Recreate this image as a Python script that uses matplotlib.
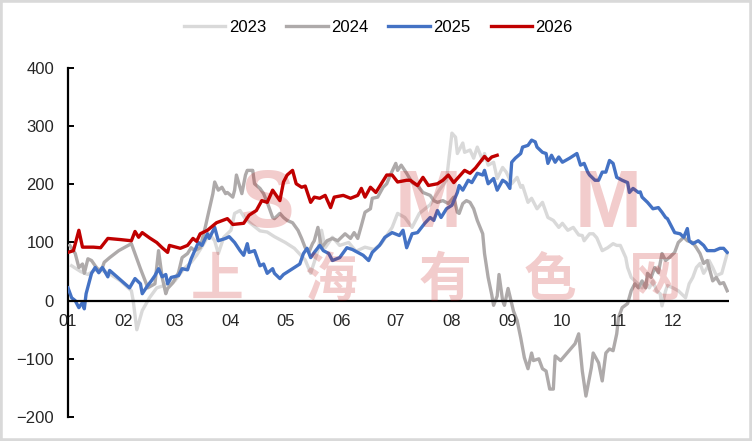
import matplotlib
matplotlib.use('Agg')
import matplotlib.pyplot as plt
from matplotlib.patches import Rectangle

plt.rcParams['font.family'] = ['Liberation Sans', 'DejaVu Sans']

months = ['01', '02', '03', '04', '05', '06', '07', '08', '09', '10', '11', '12']
month_start = [0, 31, 59, 90, 120, 151, 181, 212, 243, 273, 304, 334]

# day of year / value
days_2023 = [2, 7, 11, 16, 22, 29, 35, 36, 38, 41, 45, 49, 53, 59, 64, 68, 71, 75, 78, 81,
             83, 86, 90, 92, 95, 98, 102, 106, 110, 114, 120, 125, 131, 134, 138, 140, 142,
             146, 150, 155, 159, 164, 169, 173, 179, 182, 186, 190, 194, 200, 205, 209, 212,
             214, 215, 218, 219, 222, 224, 226, 229, 230, 232, 235, 237, 240, 242, 245, 248,
             250, 251, 254, 256, 259, 262, 265, 268, 271, 273, 276, 279, 282, 284, 285, 288,
             290, 292, 295, 298, 301, 303, 305, 308, 309, 311, 314, 317, 319, 321, 323, 325,
             327, 328, 330, 331, 334, 337, 341, 343, 345, 347, 349, 351, 353, 354, 356, 358,
             361, 364]
vals_2023 = [60, 50, 45, 55, 48, 34, 17, 0, -50, -17, 5, 22, 26, 34, 55, 66, 78, 98, 115, 103,
             81, 109, 121, 150, 155, 140, 130, 120, 118, 110, 100, 90, 70, 47, 86, 121, 91,
             109, 95, 100, 85, 92, 88, 98, 126, 150, 143, 126, 150, 165, 190, 207, 288,
             281, 253, 271, 255, 259, 245, 264, 241, 253, 233, 238, 210, 229, 221, 201, 212,
             195, 198, 169, 176, 158, 169, 143, 138, 126, 133, 121, 126, 113, 112, 103, 115,
             115, 108, 86, 91, 98, 95, 95, 74, 57, 40, 31, 22, 30, 22, 34, 17,
             12, -9, 17, 26, 22, 17, 5, 29, 40, 57, 64, 47, 57, 69, 57, 43,
             47, 81]

days_2024 = [1, 4, 6, 8, 9, 11, 13, 15, 17, 19, 20, 23, 28, 35, 37, 40, 43, 44, 48, 50, 52,
             54, 55, 58, 61, 63, 66, 68, 70, 73, 76, 77, 80, 81, 83, 85, 87, 88, 91, 92, 93,
             95, 96, 98, 99, 102, 103, 106, 108, 110, 113, 114, 117, 119, 121, 124, 127, 129,
             131, 133, 135, 136, 138, 140, 143, 146, 149, 153, 156, 158, 160, 162, 164, 167,
             168, 171, 174, 176, 178, 181, 182, 184, 187, 190, 193, 196, 200, 202, 204, 207,
             210, 213, 215, 216, 218, 220, 222, 224, 226, 229, 230, 232, 234, 235, 237, 238,
             240, 241, 243, 246, 248, 250, 252, 254, 256, 257, 260, 262, 264, 266, 268, 269,
             272, 280, 282, 284, 286, 289, 290, 293, 295, 297, 299, 301, 303, 304, 306, 309,
             311, 313, 315, 317, 319, 320, 322, 324, 326, 328, 330, 332, 335, 337, 340, 342,
             345, 347, 349, 351, 353, 354, 356, 358, 360, 362, 364]
vals_2024 = [95, 81, 57, 63, 47, 72, 69, 60, 52, 57, 66, 74, 86, 98, 81, 55, 31, 22, 29, 86, 40,
             12, 21, 31, 48, 74, 81, 91, 86, 91, 129, 143, 184, 204, 190, 195, 184, 186, 178, 190, 216,
             195, 184, 216, 224, 224, 201, 193, 184, 169, 143, 141, 150, 143, 138, 134, 121, 107,
             91, 83, 98, 103, 126, 91, 103, 107, 103, 115, 107, 117, 107, 129, 152, 158,
             176, 178, 195, 201, 216, 236, 224, 233, 219, 203, 198, 186, 181, 172, 169, 172,
             167, 178, 152, 150, 167, 172, 169, 158, 138, 115, 81, 40, 10, -8, 8, 45,
             0, -8, 21, -18, -34, -64, -98, -117, -90, -103, -100, -117, -121, -152, -152, -95,
             -103, -74, -57, -121, -164, -115, -90, -107, -138, -90, -83, -86, -57, -29, -12, -5,
             17, 29, 22, 34, 22, 47, 40, 57, 48, 81, 69, 74, 83, 100, 109, 103,
             100, 91, 81, 64, 69, 57, 34, 40, 29, 31, 17]

days_2025 = [0, 2, 4, 6, 8, 9, 10, 13, 15, 17, 19, 20, 22, 23, 34, 37, 40, 41, 44, 46, 48, 50,
             52, 54, 55, 57, 61, 63, 66, 68, 70, 72, 74, 77, 78, 81, 83, 87, 89, 92, 95, 97,
             99, 100, 103, 106, 108, 110, 113, 114, 117, 119, 124, 128, 130, 132, 134, 136,
             139, 141, 144, 146, 150, 154, 157, 160, 163, 166, 168, 172, 175, 179, 183, 185,
             187, 190, 193, 197, 200, 202, 204, 206, 209, 212, 215, 216, 218, 221, 223, 226,
             229, 230, 232, 235, 237, 240, 242, 244, 245, 247, 250, 251, 254, 256, 258, 259,
             262, 264, 265, 267, 269, 271, 273, 277, 281, 283, 285, 287, 288, 291, 293, 295,
             297, 299, 301, 303, 306, 309, 310, 312, 315, 316, 317, 320, 323, 326, 328, 330,
             331, 333, 335, 338, 340, 342, 343, 345, 348, 351, 353, 357, 360, 362, 364]
vals_2025 = [22, 5, 0, -12, -3, -14, 12, 47, 57, 48, 57, 52, 41, 52, 22, 38, 29, 12, 26, 34, 43, 55,
             41, 45, 29, 40, 43, 55, 53, 72, 86, 100, 95, 115, 107, 126, 103, 107, 110, 100, 86, 78,
             98, 83, 86, 60, 63, 47, 55, 47, 38, 45, 55, 63, 81, 90, 74, 83,
             95, 86, 81, 69, 74, 91, 88, 83, 78, 69, 83, 95, 109, 117, 112, 121,
             91, 115, 117, 133, 143, 138, 155, 143, 158, 164, 186, 198, 190, 207, 203, 219,
             216, 224, 201, 210, 190, 207, 203, 193, 238, 245, 253, 264, 267, 276, 273, 264,
             255, 253, 236, 250, 238, 247, 238, 245, 253, 233, 236, 221, 216, 207, 207, 221,
             221, 241, 236, 212, 207, 203, 186, 193, 186, 187, 178, 169, 158, 160, 152, 143,
             141, 129, 117, 115, 109, 124, 103, 98, 103, 95, 86, 86, 90, 90, 83]

days_2026 = [0, 3, 6, 8, 10, 14, 18, 22, 29, 35, 37, 39, 41, 45, 49, 52, 55, 56, 62, 66, 69,
             71, 73, 77, 82, 88, 91, 97, 100, 104, 107, 110, 113, 115, 117, 119, 121, 124, 126,
             129, 131, 134, 136, 139, 142, 145, 147, 152, 156, 160, 162, 164, 167, 170, 173,
             176, 179, 182, 187, 189, 193, 196, 199, 204, 207, 210, 213, 215, 219, 222, 225,
             227, 230, 232, 234, 237]
vals_2026 = [83, 86, 121, 92, 92, 92, 91, 107, 105, 103, 119, 109, 117, 108, 100, 91, 83, 95, 90, 95, 107,
             102, 115, 121, 134, 141, 131, 133, 147, 155, 172, 169, 190, 181, 172, 204, 216, 224, 201,
             195, 197, 169, 178, 176, 181, 160, 178, 181, 176, 181, 193, 178, 195, 186, 201,
             216, 216, 204, 207, 207, 198, 212, 198, 201, 207, 216, 203, 210, 224, 219, 228,
             236, 248, 241, 247, 250]

fig = plt.figure(figsize=(7.52, 4.41), dpi=100)
ax = fig.add_axes([68 / 752, 24 / 441, 661 / 752, 349 / 441])

lw = 2.4
ax.plot(days_2023, vals_2023, color='#d9d9d9', lw=lw, label='2023', zorder=2)
ax.plot(days_2024, vals_2024, color='#aeaaaa', lw=lw, label='2024', zorder=3)
ax.plot(days_2025, vals_2025, color='#4472c4', lw=lw, label='2025', zorder=4)
ax.plot(days_2026, vals_2026, color='#c00000', lw=lw, label='2026', zorder=5)
ax.axhline(0, color='black', lw=1.6, zorder=6)

ax.set_xlim(0, 365)
ax.set_ylim(-200, 400)
ax.set_yticks(range(-200, 401, 100))
ax.set_xticks([])
for s in ['top', 'right', 'bottom']:
    ax.spines[s].set_visible(False)
ax.spines['left'].set_linewidth(1.6)
ax.tick_params(axis='y', direction='in', length=4, width=1.4, pad=10,
               labelsize=12, labelcolor='#262626')

for d, m in zip(month_start, months):
    ax.text(d, -35, m, ha='center', va='center', fontsize=12, color='#262626')

fig.legend(loc='center', bbox_to_anchor=(0.503, 0.937), ncol=4, frameon=False,
           fontsize=12, handlelength=2.5, handletextpad=0.2, columnspacing=1.2)

# watermark
wm = dict(color='#c00000', alpha=0.2, zorder=10, ha='center', va='center')
for x, ch in zip([268, 428, 608], 'SMM'):
    fig.text(x / 752, 1 - 206 / 441, ch, fontsize=58, weight='bold', **wm)
for x, ch in zip([217, 330, 445, 550, 655], '上海有色网'):
    fig.text(x / 752, 1 - 280 / 441, ch, fontsize=38, weight=900,
             family=['Noto Sans CJK SC', 'DejaVu Sans'], **wm)

fig.patches.append(Rectangle((0, 0), 1, 1, transform=fig.transFigure, fill=False,
                             ec='#d9d9d9', lw=4))

fig.savefig('out.png', dpi=100)
